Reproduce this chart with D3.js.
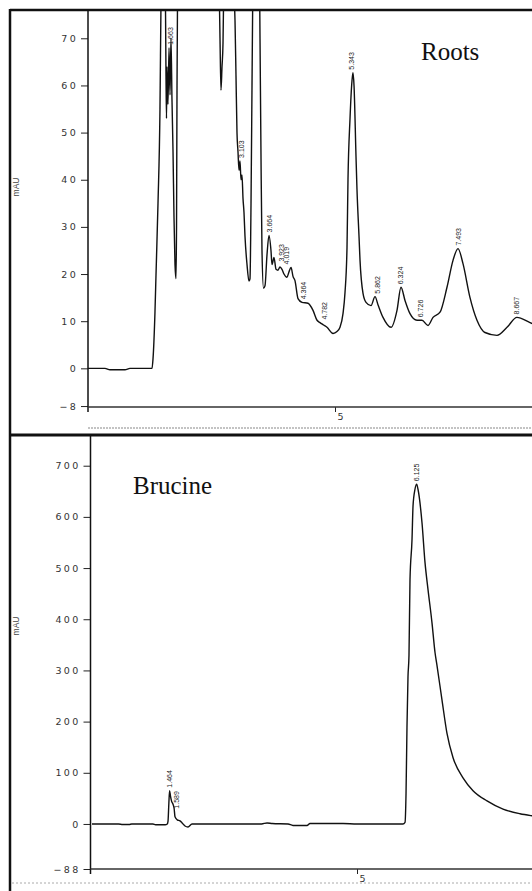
<!DOCTYPE html>
<html><head><meta charset="utf-8">
<script src="https://cdn.jsdelivr.net/npm/d3@7"></script>
<style>
html,body{margin:0;padding:0;background:#fff;}
svg{display:block;}
</style>
</head><body>
<script>
// ---------- DATA ----------
// Top panel (Roots): retention time (min) and absorbance (mAU)
const rootsTime = [0,0.344,0.445,0.749,0.850,1.296,1.316,1.356,1.377,1.417,1.457,1.478,1.518,1.559,1.579,1.589,1.599,1.619,1.640,1.660,1.680,1.700,1.721,1.741,1.761,1.781,1.792,1.802,1.822,1.862,2.267,2.632,2.672,2.692,2.713,2.733,2.753,2.794,2.915,2.955,2.976,2.996,3.016,3.036,3.057,3.077,3.097,3.117,3.138,3.158,3.178,3.219,3.259,3.279,3.300,3.320,3.340,3.381,3.421,3.462,3.482,3.502,3.522,3.553,3.583,3.623,3.664,3.704,3.725,3.765,3.806,3.846,3.886,3.927,3.967,4.028,4.069,4.110,4.150,4.190,4.251,4.332,4.453,4.555,4.636,4.696,4.767,4.838,4.960,5.040,5.101,5.162,5.202,5.243,5.263,5.304,5.344,5.364,5.385,5.425,5.445,5.486,5.506,5.567,5.628,5.729,5.810,5.870,5.972,6.134,6.255,6.336,6.417,6.518,6.660,6.761,6.883,6.984,7.126,7.267,7.389,7.490,7.591,7.733,7.874,8.036,8.279,8.482,8.684,8.947,9.25];
const rootsMAU  = [0,0,-0.3,-0.3,0,0,2,12,20,35,55,78,95,88,62,53,64,56,68,58,70,57,46,32,22,19,30,60,95,130,160,95,70,59,64,69,85,110,100,80,73.7,62,50,46,42,44,40,41,36,33,28,22,18.5,19,35,60,85,110,115,95,70,45,25,17,17.5,24,28.2,25,22,23.5,21,20.8,21.5,21,20,19.3,20.5,21.4,19.5,18.6,14.8,14,13.8,12.3,10.2,9.7,9.2,8.7,7.4,7.8,8.7,11.6,16,25.6,40,53,61,62.7,60,45,38,28,23,15.9,14,13.3,15.2,13.5,10.8,8.7,12.3,17.2,14.4,11.6,10.2,10.2,9.1,10.8,11.9,17.2,22.9,25.4,22.2,15,10.2,7.6,7,8.7,10.8,9.7,8.5];
const rootsPeakLabels = ["1.663","3.103","3.664","3.923","4.019","4.364","4.782","5.343","5.862","6.324","6.726","7.493","8.667"];
const rootsPeakTimes  = [1.663,3.103,3.664,3.923,4.019,4.364,4.782,5.343,5.862,6.324,6.726,7.493,8.667];
const rootsPeakMAU    = [68,44,28.2,22,21.4,14,9.7,62.7,15.2,17.2,10.2,25.4,10.8];
const rootsYTicks = [-8,0,10,20,30,40,50,60,70];
const rootsXTicks = [5];

// Bottom panel (Brucine standard)
const brucineTime = [0,0.5,0.58,0.70,0.75,1.15,1.2,1.38,1.42,1.434,1.450,1.464,1.480,1.500,1.530,1.550,1.566,1.610,1.660,1.700,1.755,1.811,1.887,2.5,3.2,3.302,3.4,3.7,3.792,4.057,4.113,4.4,4.736,5.0,5.868,5.906,5.925,5.943,5.962,5.981,6.000,6.038,6.057,6.094,6.125,6.151,6.226,6.283,6.340,6.415,6.472,6.509,6.604,6.698,6.811,7.0,7.189,7.453,7.755,8.075,8.302,8.6];
const brucineMAU  = [0,0,-1,-1,0,0,-1.5,-1.5,0,5,40,65,55,45,38,30,14,8,6,2,-4,-6,0,0,0,2,1,0,-3,-3,1,1,1,0,0,3,59,189,287,330,477,556,621,654,664,654,589,511,458,393,335,310,242,177,130,90,65,45,29,20,16,12];
const brucinePeakLabels = ["1.464","1.589","6.125"];
const brucinePeakTimes  = [1.464,1.589,6.125];
const brucinePeakMAU    = [65,24,664];
const brucineYTicks = [-88,0,100,200,300,400,500,600,700];
const brucineXTicks = [5];

// ---------- DRAW ----------
const W = 532, H = 891;
const svg = d3.select("body").append("svg").attr("width", W).attr("height", H);

function panel(cfg){
  const g = svg.append("g");
  const x = d3.scaleLinear().domain(cfg.xDomain).range(cfg.xRange);
  const y = d3.scaleLinear().domain(cfg.yDomain).range(cfg.yRange);
  const clipId = "clip" + cfg.id;
  svg.append("clipPath").attr("id", clipId).append("rect")
    .attr("x", cfg.axisX).attr("y", cfg.yRange[1])
    .attr("width", W - cfg.axisX).attr("height", cfg.yRange[0] - cfg.yRange[1]);

  // y axis
  const yAxis = d3.axisLeft(y).tickValues(cfg.yTicks).tickSize(7).tickPadding(3).tickFormat(d3.format("d"));
  const ya = g.append("g").attr("transform", `translate(${cfg.axisX},0)`).call(yAxis);
  ya.select(".domain").remove();
  ya.selectAll(".tick line").attr("stroke", "#222").attr("stroke-width", 1);
  ya.selectAll(".tick text").attr("font-family", "DejaVu Sans, sans-serif").attr("font-size", 9.5)
    .attr("fill", "#333").style("letter-spacing", "2.3px");
  g.append("line").attr("x1", cfg.axisX).attr("x2", cfg.axisX)
    .attr("y1", cfg.yRange[1]).attr("y2", cfg.yRange[0] + 5)
    .attr("stroke", "#111").attr("stroke-width", 1.5);

  // x axis
  const xAxis = d3.axisBottom(x).tickValues(cfg.xTicks).tickSize(5).tickPadding(1).tickFormat(d3.format("d"));
  const xa = g.append("g").attr("transform", `translate(0,${cfg.yRange[0]})`).call(xAxis);
  xa.select(".domain").remove();
  xa.selectAll(".tick line").attr("stroke", "#222");
  xa.selectAll(".tick text").attr("font-family", "DejaVu Sans, sans-serif").attr("font-size", 9.5)
    .attr("fill", "#333").attr("dx", 5);
  g.append("line").attr("x1", cfg.axisX).attr("x2", W)
    .attr("y1", cfg.yRange[0]).attr("y2", cfg.yRange[0])
    .attr("stroke", "#333").attr("stroke-width", 1.3);

  // mAU label
  g.append("text").attr("transform", `translate(19,${cfg.labelY}) rotate(-90)`)
    .attr("text-anchor", "middle").attr("font-family", "Liberation Sans, Arial, sans-serif")
    .attr("font-size", 8.5).attr("fill", "#444").text("mAU");

  // trace
  const line = d3.line().curve(d3.curveMonotoneX)
    .x((d,i) => x(cfg.times[i])).y((d,i) => y(cfg.vals[i]));
  g.append("path").datum(cfg.vals).attr("clip-path", `url(#${clipId})`)
    .attr("d", line).attr("fill", "none").attr("stroke", "#111")
    .attr("stroke-width", 1.4).attr("stroke-linejoin", "round");

  // peak labels
  g.selectAll("text.pk").data(cfg.pkLabels).enter().append("text").attr("class", "pk")
    .attr("transform", (d,i) => `translate(${x(cfg.pkTimes[i]) + 2.5},${y(cfg.pkVals[i]) - 3}) rotate(-90)`)
    .attr("font-family", "Liberation Sans, Arial, sans-serif").attr("font-size", 7)
    .attr("fill", "#222").text(d => d);

  // title
  g.append("text").attr("x", cfg.titleX).attr("y", cfg.titleY)
    .attr("font-family", "Liberation Serif, Times New Roman, serif").attr("font-size", 25)
    .attr("fill", "#111").text(cfg.title);
  return {x, y};
}

// frame
svg.append("line").attr("x1", 10).attr("x2", W).attr("y1", 10).attr("y2", 10).attr("stroke", "#111").attr("stroke-width", 2.5);
svg.append("line").attr("x1", 10).attr("x2", 10).attr("y1", 9).attr("y2", H).attr("stroke", "#111").attr("stroke-width", 2.5);
svg.append("line").attr("x1", 10).attr("x2", W).attr("y1", 435).attr("y2", 435).attr("stroke", "#111").attr("stroke-width", 3);
svg.append("line").attr("x1", 88).attr("x2", W).attr("y1", 428).attr("y2", 428).attr("stroke", "#888").attr("stroke-width", 1.2).attr("stroke-dasharray", "2,1");
svg.append("line").attr("x1", 12).attr("x2", W).attr("y1", 883).attr("y2", 883).attr("stroke", "#aaa").attr("stroke-width", 1).attr("stroke-dasharray", "2,2");

panel({id:"top", axisX: 88, xDomain:[0, 9.5], xRange:[88, 88 + 9.5*49.4], yDomain:[-8.2, 76], yRange:[407, 10],
  yTicks: rootsYTicks, xTicks: rootsXTicks, times: rootsTime, vals: rootsMAU,
  pkLabels: rootsPeakLabels, pkTimes: rootsPeakTimes, pkVals: rootsPeakMAU,
  title: "Roots", titleX: 421, titleY: 60, labelY: 187});

panel({id:"bot", axisX: 90.5, xDomain:[0, 9], xRange:[92, 92 + 9*53], yDomain:[-88, 760], yRange:[869, 435],
  yTicks: brucineYTicks, xTicks: brucineXTicks, times: brucineTime, vals: brucineMAU,
  pkLabels: brucinePeakLabels, pkTimes: brucinePeakTimes, pkVals: brucinePeakMAU,
  title: "Brucine", titleX: 133, titleY: 494, labelY: 626});
</script>
</body></html>
